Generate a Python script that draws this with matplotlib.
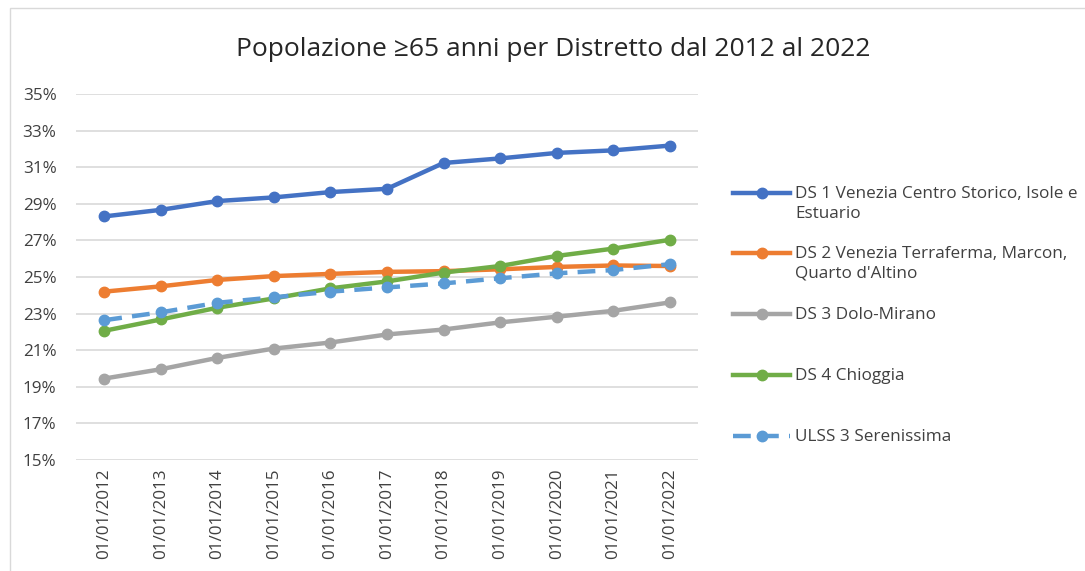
import matplotlib.pyplot as plt
from matplotlib.lines import Line2D
from matplotlib.patches import Rectangle
from matplotlib.ticker import FuncFormatter

plt.rcParams['font.family'] = ['Open Sans', 'DejaVu Sans']

# Data (share of population aged 65+, %)
dates = ['01/01/2012', '01/01/2013', '01/01/2014', '01/01/2015', '01/01/2016', '01/01/2017',
         '01/01/2018', '01/01/2019', '01/01/2020', '01/01/2021', '01/01/2022']
ds1 = [28.31, 28.67, 29.15, 29.35, 29.64, 29.82, 31.23, 31.48, 31.78, 31.92, 32.18]
ds2 = [24.20, 24.49, 24.84, 25.05, 25.17, 25.28, 25.32, 25.42, 25.55, 25.63, 25.60]
ds3 = [19.45, 19.96, 20.58, 21.09, 21.42, 21.86, 22.13, 22.52, 22.83, 23.15, 23.61]
ds4 = [22.06, 22.68, 23.32, 23.83, 24.38, 24.76, 25.24, 25.60, 26.15, 26.55, 27.03]
ulss = [22.64, 23.07, 23.59, 23.89, 24.20, 24.43, 24.65, 24.93, 25.20, 25.38, 25.70]
yticks = [15, 17, 19, 21, 23, 25, 27, 29, 31, 33, 35]

labels = ['DS 1 Venezia Centro Storico, Isole e\nEstuario',
          'DS 2 Venezia Terraferma, Marcon,\nQuarto d\'Altino',
          'DS 3 Dolo-Mirano',
          'DS 4 Chioggia',
          'ULSS 3 Serenissima']
series = [ds1, ds2, ds3, ds4, ulss]
colors = ['#4472C4', '#ED7D31', '#A5A5A5', '#70AD47', '#5B9BD5']
styles = ['-', '-', '-', '-', (0, (4, 2.3))]

W, H = 1085, 571
fig = plt.figure(figsize=(W / 100, H / 100), dpi=100)
ax = fig.add_axes([76 / W, 1 - 460 / H, (698 - 76) / W, (460 - 94) / H])

x = list(range(len(dates)))
for vals, c, ls in zip(series, colors, styles):
    ax.plot(x, vals, color=c, linestyle=ls, linewidth=3.2, marker='o',
            markersize=7.5, solid_capstyle='round', dash_capstyle='butt', zorder=3)

ax.set_xlim(-0.5, len(dates) - 0.5)
ax.set_ylim(15, 35)
ax.set_yticks(yticks)
ax.yaxis.set_major_formatter(FuncFormatter(lambda v, p: f'{v:.0f}%'))
ax.set_xticks(x)
ax.set_xticklabels(dates, rotation=90)
ax.grid(axis='y', color='#D9D9D9', linewidth=1.2, zorder=0)
for s in ax.spines.values():
    s.set_visible(False)
ax.tick_params(axis='both', length=0, labelsize=12.3, labelcolor='#404040')
ax.tick_params(axis='y', pad=14)
ax.tick_params(axis='x', pad=6)

fig.text(553 / W, 1 - 50 / H, 'Popolazione \u226565 anni per Distretto dal 2012 al 2022',
         ha='center', va='center', fontsize=19, color='#262626')

# legend drawn by hand so handles align with the first text line
leg_y = [193, 253, 314, 375, 436]
for yy, c, ls, lab in zip(leg_y, colors, styles, labels):
    yf = 1 - yy / H
    fig.add_artist(Line2D([733 / W, 790 / W], [yf, yf], color=c, linestyle=ls,
                          linewidth=3.2, transform=fig.transFigure))
    fig.add_artist(Line2D([761.5 / W], [yf], color=c, marker='o', markersize=7.5,
                          transform=fig.transFigure))
    fig.text(795 / W, yf + 7 / H, lab, ha='left', va='top', fontsize=12.3,
             color='#404040', linespacing=1.3)

# chart border (cut at right/bottom as in the screenshot)
fig.add_artist(Rectangle((10 / W, -0.1), 1.2, 1 - 8 / H + 0.1, transform=fig.transFigure,
                         fill=False, edgecolor='#D9D9D9', linewidth=1))

fig.savefig('out.png', dpi=100)
